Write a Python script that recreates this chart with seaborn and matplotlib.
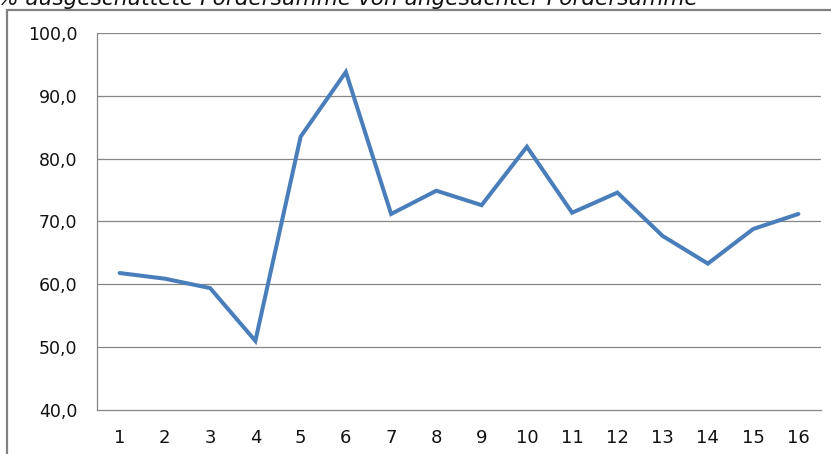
import numpy as np
import pandas as pd
import matplotlib
matplotlib.use('Agg')
import matplotlib.pyplot as plt
from matplotlib.lines import Line2D
from matplotlib.ticker import FixedLocator, FuncFormatter
import seaborn as sns

# daten
kategorien = list(range(1, 17))
prozent = [61.8, 60.9, 59.4, 51.0, 83.5, 93.8, 71.2, 74.9,
           72.6, 81.9, 71.4, 74.6, 67.7, 63.3, 68.8, 71.2]
y_ticks = [40, 50, 60, 70, 80, 90, 100]
titel = '% ausgeschüttete Fördersumme von angesuchter Fördersumme'

df = pd.DataFrame({'kat': kategorien, 'wert': prozent})

sns.set_style('white')
plt.rcParams['font.family'] = ['DejaVu Sans']

fig = plt.figure(figsize=(8.31, 4.54), dpi=100)
ax = fig.add_axes([97 / 831, 44 / 454, 724 / 831, 377 / 454])

sns.lineplot(data=df, x='kat', y='wert', ax=ax, color='#4a7ebb',
             linewidth=2.9, solid_joinstyle='miter', solid_capstyle='round')

ax.set_xlim(0.5, 16.5)
ax.set_ylim(40, 100)
ax.set_yticks(y_ticks)
ax.yaxis.set_major_formatter(FuncFormatter(lambda v, p: f'{v:.1f}'.replace('.', ',')))
ax.set_xticks(kategorien)
ax.set_xticklabels([str(k) for k in kategorien], fontsize=13, color='#111111')
ax.xaxis.set_minor_locator(FixedLocator(np.arange(0.5, 17, 1)))
ax.tick_params(axis='x', which='major', length=0, pad=14)
ax.tick_params(axis='x', which='minor', length=6, width=1, color='#868686', direction='out')
ax.tick_params(axis='y', length=8, width=1, color='#868686', direction='out',
               labelsize=12.5, pad=6, labelcolor='#111111')

for y in y_ticks[1:]:
    ax.axhline(y, color='#868686', linewidth=0.9, zorder=0)

for s in ['top', 'right']:
    ax.spines[s].set_visible(False)
ax.spines['left'].set_color('#868686')
ax.spines['bottom'].set_color('#868686')
ax.spines['left'].set_linewidth(0.9)
ax.spines['bottom'].set_linewidth(0.9)
ax.set_xlabel('')
ax.set_ylabel('')

# rahmen
fig.add_artist(Line2D([7 / 831, 7 / 831], [0, 1 - 10 / 454], transform=fig.transFigure,
                      color='#808080', linewidth=1.6))
fig.add_artist(Line2D([7 / 831, 1.0], [1 - 10 / 454, 1 - 10 / 454], transform=fig.transFigure,
                      color='#808080', linewidth=1.6))

fig.text(-0.002, 1 - 5 / 454, titel, fontsize=15.6, fontstyle='italic',
         ha='left', va='baseline', color='#111111')

fig.savefig('out.png', dpi=100)
